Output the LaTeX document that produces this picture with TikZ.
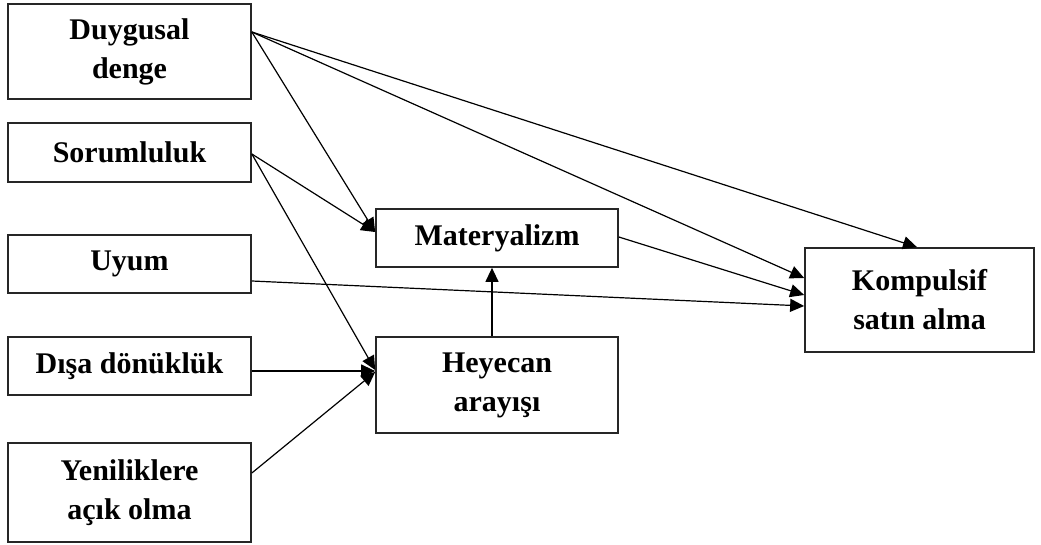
\documentclass[tikz,border=0pt]{standalone}
\usepackage{fontspec}
\setmainfont{Liberation Serif}
\usetikzlibrary{arrows.meta}
\begin{document}
\begin{tikzpicture}[x=1pt,y=-1pt,
  box/.style={draw=black!85,line width=1.7pt,rectangle,inner sep=0pt,
    align=center,font=\fontsize{30}{39}\selectfont\bfseries},
  link/.style={line width=1.2pt,-{Triangle[length=14pt,width=13pt]}}]
\useasboundingbox (0,0) rectangle (1041,545);
% predictor boxes on the left
\node[box,minimum width=243pt,minimum height=95pt] (duy) at (129.5,51.5) {Duygusal\\denge};
\node[box,minimum width=243pt,minimum height=59pt] (sor) at (129.5,152.5) {Sorumluluk};
\node[box,minimum width=243pt,minimum height=58pt] (uyum) at (129.5,264) {Uyum};
\node[box,minimum width=243pt,minimum height=58pt] (disa) at (129.5,366) {Dışa dönüklük};
\node[box,minimum width=243pt,minimum height=99pt] (yeni) at (129.5,492.5) {Yeniliklere\\açık olma};
% mediators
\node[box,minimum width=242pt,minimum height=58pt] (mat) at (497,238) {Materyalizm};
\node[box,minimum width=242pt,minimum height=96pt] (hey) at (497,385) {Heyecan\\arayışı};
% outcome
\node[box,minimum width=229pt,minimum height=104pt] (komp) at (919.5,300) {Kompulsif\\satın alma};
% paths
\draw[link] ([yshift=19.5pt]duy.east) -- ([xshift=-2.5pt]komp.north);
\draw[link] ([yshift=19.5pt]duy.east) -- ([yshift=22pt]komp.west);
\draw[link] ([yshift=19.5pt]duy.east) -- ([yshift=6pt]mat.west);
\draw[link] ([yshift=-1.5pt]sor.east) -- ([yshift=6pt]mat.west);
\draw[link] ([yshift=-1.5pt]sor.east) -- ([yshift=15pt]hey.west);
\draw[link] ([yshift=-17pt]uyum.east) -- ([yshift=-6pt]komp.west);
\draw[link] ([yshift=-5pt]disa.east) -- ([yshift=14pt]hey.west);
\draw[link] ([yshift=19.5pt]yeni.east) -- ([yshift=13pt]hey.west);
\draw[link] ([yshift=1pt]mat.east) -- ([yshift=5pt]komp.west);
\draw[link] ([xshift=-5pt]hey.north) -- ([xshift=-5pt]mat.south);
\end{tikzpicture}
\end{document}
